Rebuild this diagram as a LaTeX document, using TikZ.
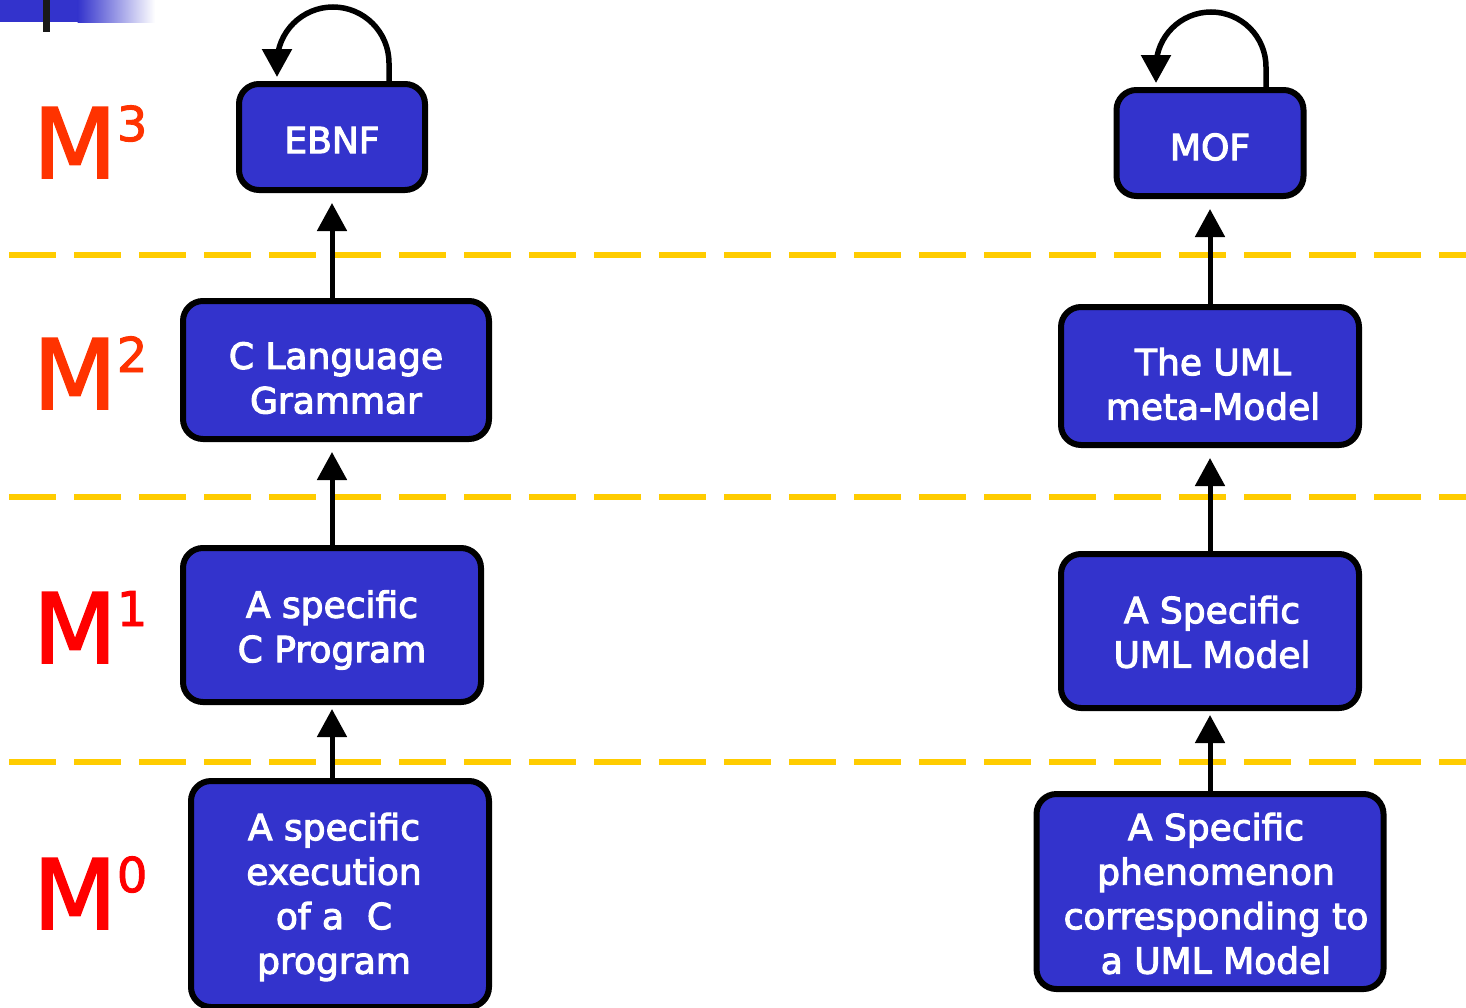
\documentclass[tikz,border=0pt]{standalone}
\usepackage{fontspec}
\setmainfont{DejaVu Sans}
\newfontfamily\boxfont[RawFeature={embolden=3}]{DejaVu Sans}
\newfontfamily\levelfont[RawFeature={embolden=2}]{DejaVu Sans}
\usetikzlibrary{arrows.meta,calc}
\definecolor{boxblue}{HTML}{3333CC}
\definecolor{levelline}{HTML}{FFCC00}
\definecolor{morange}{HTML}{FF3300}
\definecolor{mred}{HTML}{FF0000}
\begin{document}
\begin{tikzpicture}[x=1pt,y=-1pt,
  levelbox/.style={draw=black,line width=6pt,fill=boxblue,rounded corners=20pt,inner sep=0pt},
  boxtext/.style={text=white,align=center,inner sep=0pt,
    font=\boxfont\fontsize{36}{44.5}\selectfont},
  up/.style={line width=5pt,-{Triangle[length=28pt,width=29pt]},shorten >=10pt},
  selfref/.style={line width=5.5pt,-{Triangle[length=28pt,width=29pt]}},
  sep/.style={levelline,line width=6pt,dash pattern=on 47pt off 18pt},
  mlabel/.style={anchor=base west,inner sep=0pt,font=\levelfont\fontsize{97}{97}\selectfont}]
\useasboundingbox (0,0) rectangle (1466,1007);
\fill[white] (0,0) rectangle (1466,1007);

% title-bar remnant
\fill[boxblue] (0,0) rectangle (78,22);
\shade[left color=boxblue,right color=white] (77.5,0) rectangle (155,22);
\fill[black!90] (43,0) rectangle (50,32);

% level separators
\draw[sep] (9,255) -- (1466,255);
\draw[sep] (9,497) -- (1466,497);
\draw[sep] (9,762) -- (1466,762);

% level labels
\node[mlabel,text=morange] (m3) at (33,178) {M\raisebox{37pt}{\fontsize{48}{48}\selectfont 3}};
\node[mlabel,text=morange] (m2) at (33,409) {M\raisebox{37pt}{\fontsize{48}{48}\selectfont 2}};
\node[mlabel,text=mred] (m1) at (33,663) {M\raisebox{37pt}{\fontsize{48}{48}\selectfont 1}};
\node[mlabel,text=mred] (m0) at (33,929) {M\raisebox{37pt}{\fontsize{48}{48}\selectfont 0}};

% C language stack
\node[levelbox,minimum width=186pt,minimum height=106pt,
  label={[boxtext,yshift=-3pt]center:EBNF}] (ebnf) at (332,137) {};
\node[levelbox,minimum width=306pt,minimum height=138pt,
  label={[boxtext,yshift=-8pt]center:C Language\\Grammar}] (grammar) at (336,370) {};
\node[levelbox,minimum width=298pt,minimum height=154pt,
  label={[boxtext,yshift=-5pt]center:A specific\\C Program}] (cprog) at (332,625) {};
\node[levelbox,minimum width=298pt,minimum height=226pt,
  label={[boxtext,yshift=-3pt,xshift=-6pt]center:A specific\\execution\\of a~~C\\program}] (cexec) at (340,894) {};

% UML stack
\node[levelbox,minimum width=187pt,minimum height=106pt,
  label={[boxtext,yshift=-4pt]center:MOF}] (mof) at (1210,143) {};
\node[levelbox,minimum width=298pt,minimum height=138pt,
  label={[boxtext,yshift=-8pt,xshift=3pt]center:The UML\\meta-Model}] (meta) at (1210,376) {};
\node[levelbox,minimum width=298pt,minimum height=154pt,
  label={[boxtext,yshift=-1pt,xshift=2pt]center:A Specific\\UML Model}] (umlm) at (1210,631) {};
\node[levelbox,minimum width=347pt,minimum height=195pt,
  label={[boxtext,yshift=-2pt,xshift=6pt]center:A Specific\\phenomenon\\corresponding to\\a UML Model}] (phen) at (1210,891.5) {};

% instance-of arrows
\draw[up] (ebnf.south |- grammar.north) -- (ebnf.south);
\draw[up] (cprog.north) -- (cprog.north |- grammar.south);
\draw[up,shorten >=4pt] (cprog.south |- cexec.north) -- (cprog.south);
\draw[up] (mof.south |- meta.north) -- (mof.south);
\draw[up] (umlm.north) -- (meta.south);
\draw[up,shorten >=4pt] (phen.north) -- (umlm.south);

% self-describing top levels
\draw[selfref] ($(ebnf.north)+(57,0)$) -- ++(0,-18) arc[start angle=0,end angle=-180,radius=56] -- ++(0,14);
\draw[selfref] ($(mof.north)+(56,0)$) -- ++(0,-20) arc[start angle=0,end angle=-180,radius=55] -- ++(0,16);
\end{tikzpicture}
\end{document}
